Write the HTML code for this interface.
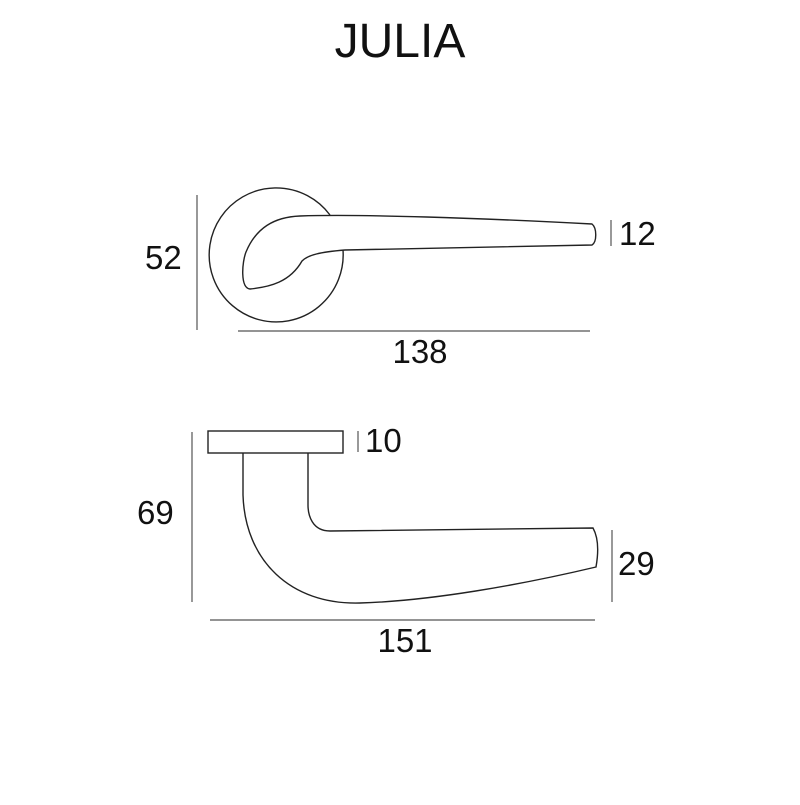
<!DOCTYPE html><html><head><style>body{margin:0;background:#fff}svg text{font-family:"Liberation Sans",sans-serif;fill:#111}</style></head><body>
<svg width="800" height="800" viewBox="0 0 800 800" xmlns="http://www.w3.org/2000/svg">
<text x="400" y="57" font-size="48" text-anchor="middle">JULIA</text>
<g fill="none" stroke="#222" stroke-width="1.4">
<path d="M330,215 A67,67 0 1 0 343,250"/>
<path d="M300,216 C360,214 480,218 592,224 C597,228 597,242 592,245 L345,250 C320,252 308,255 302,261 C290,282 270,287 250,289 C240,288 242,262 246,252 C256,228 274,217 300,216 Z" fill="#fff"/>
<rect x="208" y="431" width="135" height="22"/>
<path d="M243,453 L243,495 C245,560 290,605 360,603 C430,601 520,585 596,567 C599,550 598,537 593,528 L330,531 C312,531 308,515 308,505 L308,453"/>
</g>
<g stroke="#555" stroke-width="1.2">
<line x1="197" y1="195" x2="197" y2="330"/>
<line x1="238" y1="331" x2="590" y2="331"/>
<line x1="611" y1="220" x2="611" y2="246"/>
<line x1="192" y1="432" x2="192" y2="602"/>
<line x1="210" y1="620" x2="595" y2="620"/>
<line x1="612" y1="530" x2="612" y2="602"/>
<line x1="358" y1="431" x2="358" y2="452"/>
</g>
<g font-size="33">
<text x="145" y="269">52</text>
<text x="619" y="245">12</text>
<text x="420" y="363" text-anchor="middle">138</text>
<text x="365" y="452">10</text>
<text x="137" y="524">69</text>
<text x="618" y="575">29</text>
<text x="405" y="652" text-anchor="middle">151</text>
</g>
</svg></body></html>
